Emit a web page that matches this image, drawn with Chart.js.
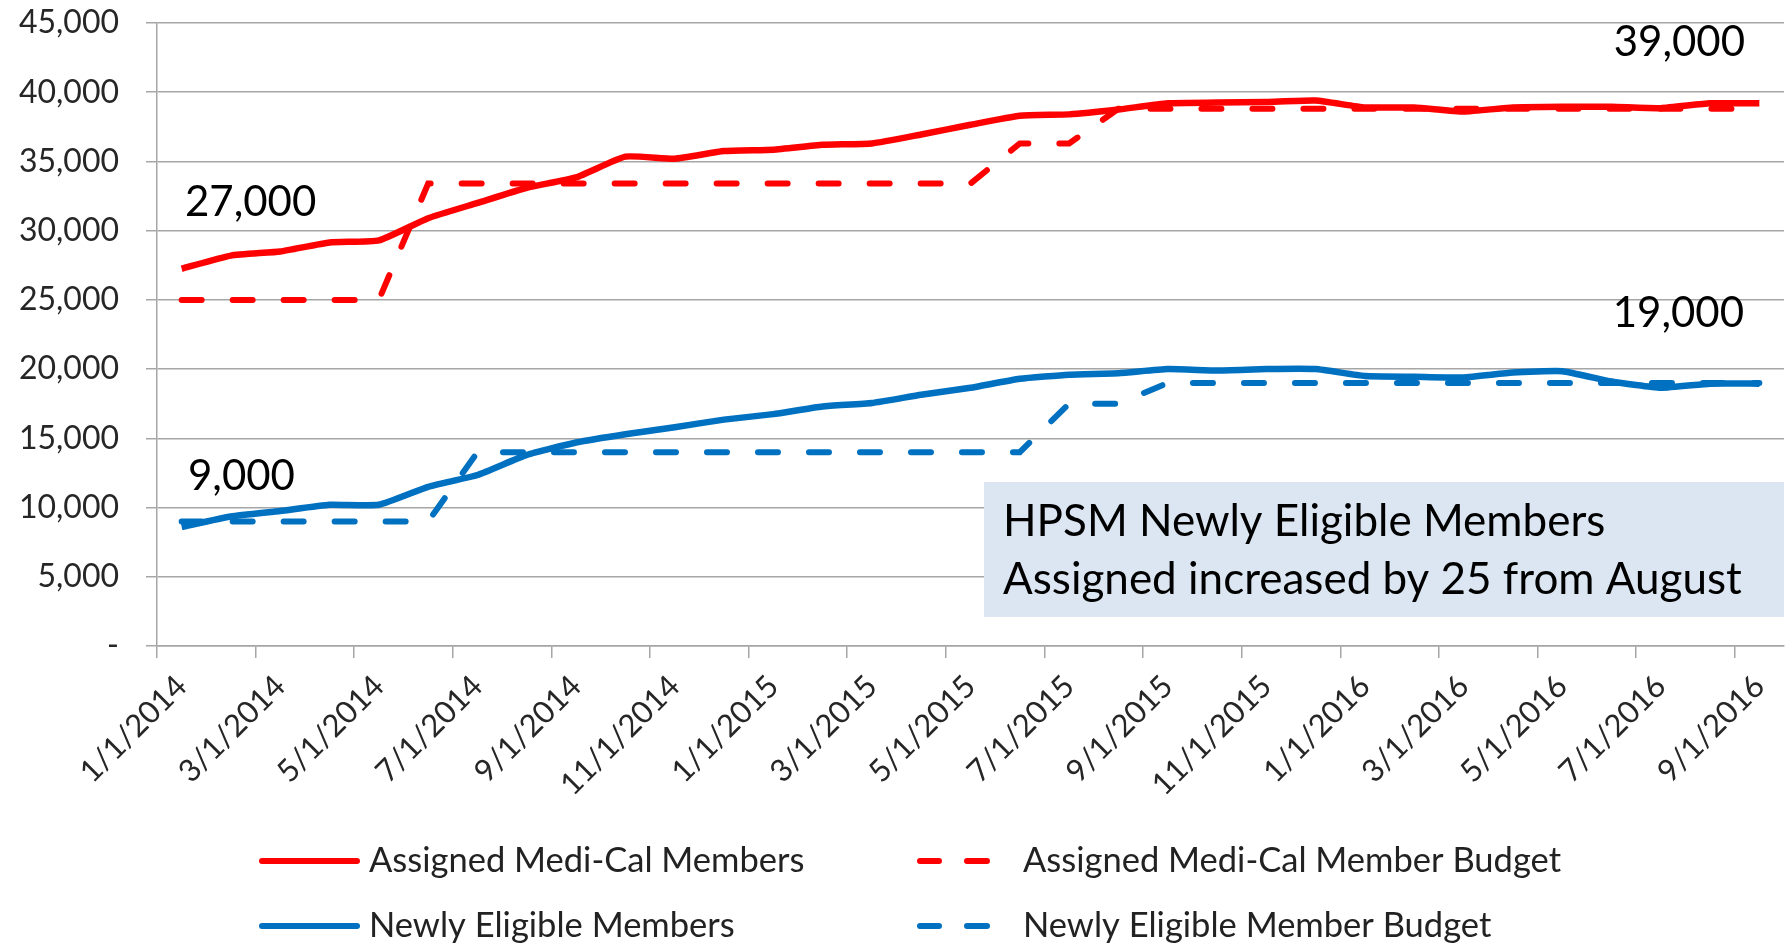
<!DOCTYPE html>
<html>
<head>
<meta charset="utf-8">
<script src="https://cdn.jsdelivr.net/npm/chart.js@4.4.0/dist/chart.umd.min.js"></script>
<style>
  html, body { margin: 0; padding: 0; background: #fff; }
  #wrap { position: relative; width: 1787px; height: 944px; }
</style>
</head>
<body>
<div id="wrap"><canvas id="chart" width="1787" height="944"></canvas></div>
<script>
// monthly categories, Jan 2014 .. Sep 2016
const months = [
  "1/1/2014", "2/1/2014", "3/1/2014", "4/1/2014", "5/1/2014", "6/1/2014",
  "7/1/2014", "8/1/2014", "9/1/2014", "10/1/2014", "11/1/2014", "12/1/2014",
  "1/1/2015", "2/1/2015", "3/1/2015", "4/1/2015", "5/1/2015", "6/1/2015",
  "7/1/2015", "8/1/2015", "9/1/2015", "10/1/2015", "11/1/2015", "12/1/2015",
  "1/1/2016", "2/1/2016", "3/1/2016", "4/1/2016", "5/1/2016", "6/1/2016",
  "7/1/2016", "8/1/2016", "9/1/2016",
];

const assignedMembers = [
  27250, 28200, 28500, 29150, 29300, 30900, 32000, 33100, 33850, 35350, 35200,
  35750, 35850, 36200, 36300, 36950, 37650, 38300, 38400, 38750, 39200, 39250,
  39300, 39400, 38900, 38900, 38600, 38900, 38950, 38950, 38850, 39200, 39200,
];

const assignedBudget = [
  25000, 25000, 25000, 25000, 25000, 33400, 33400, 33400, 33400, 33400, 33400,
  33400, 33400, 33400, 33400, 33400, 33400, 36300, 36300, 38800, 38800, 38800,
  38800, 38800, 38800, 38800, 38800, 38800, 38800, 38800, 38800, 38800, 38800,
];

const newlyEligible = [
  8600, 9350, 9750, 10200, 10200, 11500, 12350, 13800, 14700, 15300, 15800,
  16350, 16750, 17300, 17550, 18150, 18650, 19300, 19600, 19700, 20000, 19900,
  20000, 20000, 19500, 19450, 19400, 19750, 19850, 19100, 18650, 18950, 18950,
];

const newlyBudget = [
  9000, 9000, 9000, 9000, 9000, 9000, 14000, 14000, 14000, 14000, 14000,
  14000, 14000, 14000, 14000, 14000, 14000, 14000, 17500, 17500, 19000, 19000,
  19000, 19000, 19000, 19000, 19000, 19000, 19000, 19000, 19000, 19000, 19000,
];

const seriesNames = [
  "Assigned Medi-Cal Members",
  "Assigned Medi-Cal Member Budget",
  "Newly Eligible Members",
  "Newly Eligible Member Budget",
];

const callouts = ["27,000", "39,000", "9,000", "19,000"];
const noteLines = ["HPSM Newly Eligible Members", "Assigned increased by 25 from August"];

const RED = "#ff0000";
const BLUE = "#0070c0";
const GRID = "#a6a6a6";
const DASH = [20, 31];

Chart.defaults.font.family = "Lato, 'Open Sans', sans-serif";

// callouts, note box and the 2x2 legend
const overlay = {
  id: "overlay",
  afterDraw(chart) {
    const ctx = chart.ctx;
    ctx.save();

    ctx.fillStyle = "#000";
    ctx.font = "42px Lato";
    ctx.textBaseline = "middle";
    ctx.textAlign = "left";
    ctx.fillText(callouts[0], 185, 202);
    ctx.fillText(callouts[2], 188, 476);
    ctx.textAlign = "right";
    ctx.fillText(callouts[1], 1745, 42);
    ctx.fillText(callouts[3], 1744, 313);

    ctx.fillStyle = "#dce6f2";
    ctx.fillRect(984, 482, 800, 135);
    ctx.fillStyle = "#000";
    ctx.textAlign = "left";
    ctx.font = "44px Lato";
    ctx.fillText(noteLines[0], 1003, 522);
    ctx.fillText(noteLines[1], 1003, 580);

    // legend
    const spots = [
      { x: 260, y: 861 },
      { x: 917, y: 861 },
      { x: 260, y: 926 },
      { x: 917, y: 926 },
    ];
    chart.data.datasets.forEach((ds, i) => {
      const p = spots[i];
      ctx.strokeStyle = ds.borderColor;
      ctx.lineWidth = 6;
      ctx.lineCap = "round";
      ctx.beginPath();
      if (ds.borderDash && ds.borderDash.length) {
        ctx.moveTo(p.x + 3, p.y);
        ctx.lineTo(p.x + 22, p.y);
        ctx.moveTo(p.x + 50, p.y);
        ctx.lineTo(p.x + 70, p.y);
      } else {
        ctx.moveTo(p.x + 2, p.y);
        ctx.lineTo(p.x + 97, p.y);
      }
      ctx.stroke();
      ctx.fillStyle = "#222";
      ctx.font = "34.5px Lato";
      ctx.textAlign = "left";
      ctx.fillText(ds.label, i % 2 === 0 ? 369 : 1023, p.y);
    });

    ctx.restore();
  },
};

new Chart(document.getElementById("chart"), {
  type: "line",
  data: {
    labels: months,
    datasets: [
      {
        label: seriesNames[0],
        data: assignedMembers,
        borderColor: RED,
        borderWidth: 6.5,
        tension: 0.15,
        pointRadius: 0,
        fill: false,
      },
      {
        label: seriesNames[1],
        data: assignedBudget,
        borderColor: RED,
        borderWidth: 6,
        borderDash: DASH,
        borderCapStyle: "round",
        tension: 0,
        pointRadius: 0,
        fill: false,
      },
      {
        label: seriesNames[2],
        data: newlyEligible,
        borderColor: BLUE,
        borderWidth: 6.5,
        tension: 0.15,
        pointRadius: 0,
        fill: false,
      },
      {
        label: seriesNames[3],
        data: newlyBudget,
        borderColor: BLUE,
        borderWidth: 6,
        borderDash: DASH,
        borderCapStyle: "round",
        tension: 0,
        pointRadius: 0,
        fill: false,
      },
    ],
  },
  options: {
    responsive: false,
    animation: false,
    layout: { padding: { top: 23, right: 3, left: 0, bottom: 0 } },
    plugins: {
      legend: { display: false },
      tooltip: { enabled: false },
    },
    scales: {
      x: {
        offset: true,
        grid: {
          offset: true,
          drawOnChartArea: false,
          drawTicks: true,
          tickLength: 12,
          lineWidth: 1.5,
          color: (c) => (c.index % 2 === 0 ? GRID : "rgba(0,0,0,0)"),
        },
        border: { display: true, color: GRID, width: 1.5 },
        ticks: {
          autoSkip: false,
          maxRotation: 45,
          minRotation: 45,
          padding: 10,
          color: "#262626",
          font: { size: 31 },
          callback: (v, i) => (i % 2 === 0 ? months[i] : ""),
        },
        afterFit: (s) => {
          s.height = 298;
          s.paddingLeft = 0;
          s.paddingRight = 0;
        },
      },
      y: {
        min: 0,
        max: 45000,
        grid: {
          color: GRID,
          lineWidth: 1.5,
          tickLength: 11,
        },
        border: { display: true, color: GRID, width: 1.5 },
        ticks: {
          stepSize: 5000,
          padding: 27,
          color: "#262626",
          font: { size: 32 },
          callback: (v) => (v === 0 ? "-" : v.toLocaleString("en-US")),
        },
        afterFit: (s) => {
          s.width = 157;
          s.paddingTop = 0;
          s.paddingBottom = 0;
        },
      },
    },
  },
  plugins: [overlay],
});
</script>
</body>
</html>
